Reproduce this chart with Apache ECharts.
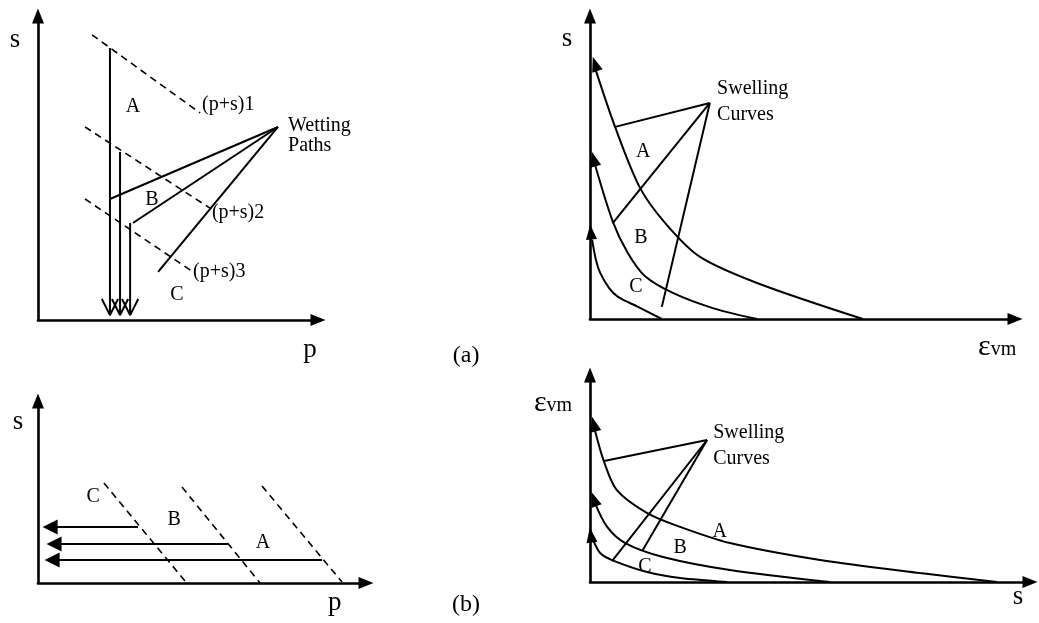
<!DOCTYPE html>
<html>
<head>
<meta charset="utf-8">
<title>Stress paths and swelling curves</title>
<script src="https://cdn.jsdelivr.net/npm/echarts@6/dist/echarts.min.js"></script>
<style>
  html, body { margin: 0; padding: 0; background: #fff; }
  #chart { width: 1039px; height: 623px; }
</style>
</head>
<body>
<div id="chart"></div>
<script>
// Panels: 0 = (a) s–p paths, 1 = (a) s–εvm swelling, 2 = (b) s–p paths, 3 = (b) εvm–s swelling.
// All coordinates are in each panel's own 0–100 axis units.

// ---- Panel 0: wetting paths in the s–p plane ----
const p0LoadLines = [
  [[19.3, 93.8], [57.9, 68.1]],
  [[16.8, 63.5], [61.4, 36.8]],
  [[16.8, 39.8], [55.4, 15.8]]
];
const p0DryingX = [25.7, 29.3, 32.9];
const p0DryingTop = [89.5, 55.3, 31.9];
const p0DryingEnd = 1.6;
const p0WettingHub = [85.7, 63.5];
const p0WettingStart = [[25.7, 39.8], [33.9, 31.9], [42.9, 15.8]];
const p0Labels = [
  [33.9, 70.1, 'A', 'center'],
  [40.7, 39.5, 'B', 'center'],
  [49.6, 8.2, 'C', 'center'],
  [58.6, 70.7, '(p+s)1', 'left'],
  [62.1, 35.2, '(p+s)2', 'left'],
  [55.4, 15.8, '(p+s)3', 'left'],
  [89.3, 63.8, 'Wetting', 'left'],
  [89.3, 57.4, 'Paths', 'left']
];
const p0AxisNames = [[-8.2, 92.1, 's'], [97.1, -9.9, 'p']];
const figureTags = [[0, 152.9, -11.8, '(a)'], [2, 130.5, -12.1, '(b)']];

// ---- Panel 1: s vs εvm swelling curves ----
const p1CurveA = [[1.2, 82.8], [5.9, 63.4], [11.8, 43.2], [18.1, 31.0], [25.9, 20.5],
  [39.3, 11.9], [64.2, 0]];
const p1CurveB = [[1.2, 50.8], [5.4, 32.0], [8.9, 21.8], [12.9, 14.2], [19.5, 8.6],
  [28.9, 3.6], [39.3, 0]];
const p1CurveC = [[0.5, 26.1], [1.4, 19.5], [2.4, 15.2], [4.5, 10.2], [6.6, 7.3], [11.3, 4.0], [16.9, 0]];
const p1Heads = [[1.2, 84.2, 18], [0.9, 52.8, 15], [0.2, 28.7, 5]];
const p1Hub = [28.2, 71.3];
const p1Ends = [[5.9, 63.4], [5.4, 31.7], [16.9, 4.0]];
const p1Labels = [
  [12.5, 55.1, 'A', 'center'],
  [12.0, 26.7, 'B', 'center'],
  [10.8, 10.6, 'C', 'center'],
  [29.9, 75.9, 'Swelling', 'left'],
  [29.9, 67.4, 'Curves', 'left']
];
const p1AxisNames = [[-5.4, 92.4, 's']];
const p1StrainName = [95.8, -9.2];

// ---- Panel 2: unloading paths in the s–p plane ----
const p2LoadLines = [
  [[20.1, 54.9], [45.1, 0.5]],
  [[43.9, 52.7], [67.7, 0]],
  [[68.3, 53.3], [92.7, 0.5]]
];
const p2Arrows = [
  [[30.5, 30.8], [3.7, 30.8]],
  [[57.9, 21.4], [4.9, 21.4]],
  [[86.6, 12.6], [4.3, 12.6]]
];
const p2Labels = [
  [16.8, 47.3, 'C', 'center'],
  [41.5, 34.6, 'B', 'center'],
  [68.6, 22.0, 'A', 'center']
];
const p2AxisNames = [[-6.1, 88.5, 's'], [90.5, -11, 'p']];

// ---- Panel 3: εvm vs s swelling curves ----
const p3CurveA = [[1.1, 73.4], [3.2, 58.0], [6.1, 44.4], [13.0, 33.3], [20.5, 26.6], [31.8, 18.8],
  [52.3, 10.6], [75.0, 4.3], [92.5, 0]];
const p3CurveB = [[1.1, 38.2], [3.9, 26.6], [8.0, 18.8], [16.6, 12.1], [31.8, 5.8], [54.5, 0]];
const p3CurveC = [[0.7, 20.3], [2.3, 14.0], [5.0, 10.6], [13.0, 4.8], [20.5, 1.9], [31.1, 0]];
const p3Heads = [[0.9, 76.3, 15], [0.9, 40.1, 20], [0.2, 22.7, 8]];
const p3Hub = [26.6, 68.6];
const p3Ends = [[3.2, 58.5], [12.0, 15.5], [5.0, 10.1]];
const p3Labels = [
  [29.5, 24.2, 'A', 'center'],
  [20.5, 16.4, 'B', 'center'],
  [12.5, 7.2, 'C', 'center'],
  [28.0, 72.0, 'Swelling', 'left'],
  [28.0, 59.6, 'Curves', 'left']
];
const p3AxisNames = [[97.3, -7.2, 's']];
const p3StrainName = [-8.4, 86.5];

// ---- drawing helpers ----
const FONT = 'Liberation Serif';
const INK = '#000';
const LABEL_SIZE = 20;
const AXIS_NAME_SIZE = 27;

const grids = [
  { left: 38, top: 16, width: 280, height: 304 },
  { left: 590, top: 16, width: 425, height: 303 },
  { left: 38, top: 401, width: 328, height: 182 },
  { left: 590, top: 375, width: 440, height: 207 }
];

function axis(i) {
  return {
    type: 'value', gridIndex: i, min: 0, max: 100,
    axisLine: { show: true, onZero: false, symbol: ['none', 'triangle'], symbolSize: [12, 15],
      lineStyle: { color: INK, width: 2.6 } },
    axisTick: { show: false }, axisLabel: { show: false }, splitLine: { show: false }
  };
}

function path(panel, pts, opts) {
  opts = opts || {};
  return {
    type: 'line', xAxisIndex: panel, yAxisIndex: panel, data: pts,
    symbol: 'none', smooth: opts.smooth || false,
    silent: true, clip: false,
    lineStyle: { color: INK, width: opts.width || 2, type: opts.dash ? [7, 5] : 'solid' }
  };
}

function texts(panel, items, size) {
  return {
    type: 'scatter', xAxisIndex: panel, yAxisIndex: panel, symbolSize: 0, silent: true, clip: false,
    itemStyle: { opacity: 1 },
    data: items.map(t => ({
      value: [t[0], t[1]],
      label: { show: true, position: 'inside', formatter: t[2], align: t[3] || 'center',
        verticalAlign: 'middle', color: INK, opacity: 1, fontFamily: FONT, fontSize: size }
    }))
  };
}

function heads(panel, items) {
  return {
    type: 'scatter', xAxisIndex: panel, yAxisIndex: panel, silent: true, clip: false,
    symbol: 'triangle', symbolSize: [11, 15],
    itemStyle: { color: INK, opacity: 1 },
    data: items.map(h => ({ value: [h[0], h[1]], symbolRotate: h[2] }))
  };
}

const series = [];

// panel 0
p0LoadLines.forEach(l => series.push(path(0, l, { dash: true, width: 1.6 })));
p0DryingX.forEach((x, k) => {
  series.push(path(0, [[x, p0DryingTop[k]], [x, p0DryingEnd]]));
  // open arrowhead
  series.push(path(0, [[x - 2.9, p0DryingEnd + 5.3], [x, p0DryingEnd], [x + 2.9, p0DryingEnd + 5.3]]));
});
p0WettingStart.forEach(s => series.push(path(0, [s, p0WettingHub])));
series.push(texts(0, p0Labels, LABEL_SIZE));
series.push(texts(0, p0AxisNames, AXIS_NAME_SIZE));
figureTags.forEach(t => series.push(texts(t[0], [[t[1], t[2], t[3]]], 24)));

// panel 1
[p1CurveA, p1CurveB, p1CurveC].forEach(c => series.push(path(1, c, { smooth: 0.3 })));
series.push(heads(1, p1Heads));
p1Ends.forEach(e => series.push(path(1, [e, p1Hub])));
series.push(texts(1, p1Labels, LABEL_SIZE));
series.push(texts(1, p1AxisNames, AXIS_NAME_SIZE));

// panel 2
p2LoadLines.forEach(l => series.push(path(2, l, { dash: true, width: 1.6 })));
series.push({
  type: 'lines', coordinateSystem: 'cartesian2d', xAxisIndex: 2, yAxisIndex: 2, silent: true,
  symbol: ['none', 'triangle'], symbolSize: [12, 15],
  lineStyle: { color: INK, width: 2, opacity: 1 },
  data: p2Arrows.map(a => ({ coords: a }))
});
series.push(texts(2, p2Labels, LABEL_SIZE));
series.push(texts(2, p2AxisNames, AXIS_NAME_SIZE));

// panel 3
[p3CurveA, p3CurveB, p3CurveC].forEach(c => series.push(path(3, c, { smooth: 0.3 })));
series.push(heads(3, p3Heads));
p3Ends.forEach(e => series.push(path(3, [e, p3Hub])));
series.push(texts(3, p3Labels, LABEL_SIZE));
series.push(texts(3, p3AxisNames, AXIS_NAME_SIZE));

// εvm axis names (rich text: large epsilon, small subscript)
function strainName(panel, pt) {
  return {
    type: 'scatter', xAxisIndex: panel, yAxisIndex: panel, symbolSize: 0, silent: true, clip: false,
    itemStyle: { opacity: 1 },
    data: [{
      value: pt,
      label: { show: true, position: 'inside', formatter: '{e|ε}{v|vm}', color: INK, opacity: 1,
        rich: {
          e: { fontFamily: FONT, fontSize: 30, color: INK },
          v: { fontFamily: FONT, fontSize: 20, color: INK, verticalAlign: 'bottom', padding: [0, 0, 2, 0] }
        } }
    }]
  };
}
series.push(strainName(1, p1StrainName));
series.push(strainName(3, p3StrainName));

const chart = echarts.init(document.getElementById('chart'), null, { renderer: 'canvas' });
chart.setOption({
  animation: false,
  backgroundColor: '#fff',
  grid: grids,
  xAxis: grids.map((g, i) => axis(i)),
  yAxis: grids.map((g, i) => axis(i)),
  series: series
});
</script>
</body>
</html>
